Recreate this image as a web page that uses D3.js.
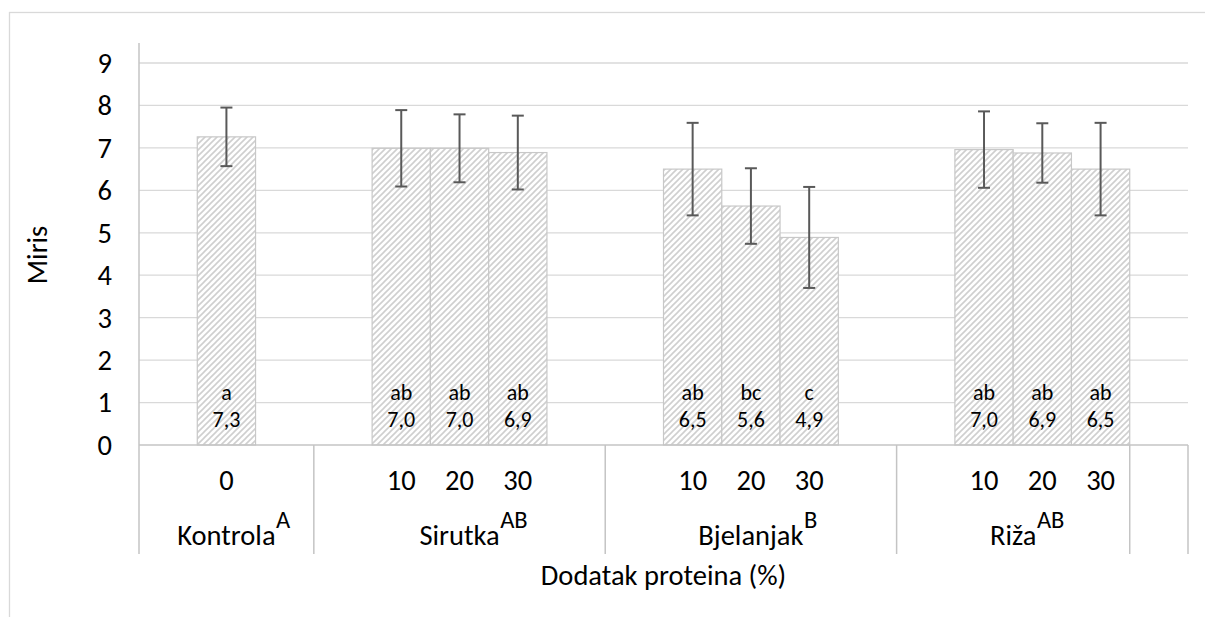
<!DOCTYPE html>
<html lang="hr">
<head>
<meta charset="UTF-8">
<title>Miris</title>
<script src="https://d3js.org/d3.v7.min.js"></script>
<style>
  body { margin: 0; background: #fff; }
  svg text { font-family: Carlito, "Open Sans", sans-serif; fill: #000; }
  .grid line { stroke: #d9d9d9; stroke-width: 1.3; }
  .bar { fill: url(#hatch); stroke: #c8c8c8; stroke-width: 1.2; }
  .err { stroke: #595959; stroke-width: 2; }
  .sep { stroke: #c4c4c4; stroke-width: 1.5; }
</style>
</head>
<body>
<svg width="1205" height="617"></svg>
<script>
// slots along the category axis (Excel blank categories included)
const slotDose  = ["", "0", "", "", "10", "20", "30", "", "", "10", "20", "30", "", "", "10", "20", "30", ""];
const slotGroup = [0, 0, 0, 1, 1, 1, 1, 1, 2, 2, 2, 2, 2, 3, 3, 3, 3, 4];
const groups    = ["Kontrola", "Sirutka", "Bjelanjak", "Riža", ""];
const groupSup  = ["A", "AB", "B", "AB", ""];

// one entry per bar, in slot order
const barSlots  = [1, 4, 5, 6, 9, 10, 11, 14, 15, 16];
const means     = [7.26, 6.99, 6.99, 6.89, 6.50, 5.63, 4.89, 6.96, 6.88, 6.50];
const sds       = [0.69, 0.90, 0.80, 0.87, 1.09, 0.89, 1.19, 0.90, 0.70, 1.09];
const letters   = ["a", "ab", "ab", "ab", "ab", "bc", "c", "ab", "ab", "ab"];
const yTicks    = [0, 1, 2, 3, 4, 5, 6, 7, 8, 9];

const svg = d3.select("svg");
const left = 139, right = 1188, y0 = 445, y9 = 63;
const fs = 28.5;

// chart border
svg.append("rect").attr("x", 9.5).attr("y", 12.5).attr("width", 1300).attr("height", 700)
  .attr("fill", "none").attr("stroke", "#d9d9d9").attr("stroke-width", 1.3);

const defs = svg.append("defs");
const pat = defs.append("pattern").attr("id", "hatch").attr("patternUnits", "userSpaceOnUse")
  .attr("width", 6).attr("height", 6);
pat.append("rect").attr("width", 6).attr("height", 6).attr("fill", "#fff");
pat.append("path").attr("d", "M-1,1 l2,-2 M0,6 l6,-6 M5,7 l2,-2")
  .attr("stroke", "#cfcfcf").attr("stroke-width", 1.6);

const x = d3.scaleBand().domain(d3.range(slotDose.length)).range([left, right]).padding(0);
const y = d3.scaleLinear().domain([0, 9]).range([y0, y9]);

// gridlines
svg.append("g").attr("class", "grid")
  .selectAll("line").data(yTicks.filter(d => d > 0)).join("line")
  .attr("x1", left).attr("x2", right).attr("y1", d => y(d)).attr("y2", d => y(d));

// y axis labels
const yAxis = svg.append("g").attr("transform", `translate(${left},0)`)
  .call(d3.axisLeft(y).tickValues(yTicks).tickSize(0).tickPadding(27));
yAxis.select(".domain").remove();
yAxis.selectAll("text").style("font-size", fs + "px").attr("dy", "0.33em");

// bars
const bars = barSlots.map((s, i) => ({slot: s, mean: means[i], sd: sds[i], letter: letters[i]}));
svg.append("g").selectAll("rect").data(bars).join("rect")
  .attr("class", "bar")
  .attr("x", d => x(d.slot)).attr("width", x.bandwidth())
  .attr("y", d => y(d.mean)).attr("height", d => y(0) - y(d.mean));

// error bars
const eb = svg.append("g").selectAll("g").data(bars).join("g")
  .attr("transform", d => `translate(${x(d.slot) + x.bandwidth() / 2},0)`);
eb.append("line").attr("class", "err").attr("y1", d => y(d.mean + d.sd)).attr("y2", d => y(d.mean - d.sd));
eb.append("line").attr("class", "err").attr("x1", -6).attr("x2", 6)
  .attr("y1", d => y(d.mean + d.sd)).attr("y2", d => y(d.mean + d.sd));
eb.append("line").attr("class", "err").attr("x1", -6).attr("x2", 6)
  .attr("y1", d => y(d.mean - d.sd)).attr("y2", d => y(d.mean - d.sd));

// labels inside bars
const fmt = v => d3.format(".1f")(v).replace(".", ",");
const lab = svg.append("g").selectAll("g").data(bars).join("g")
  .attr("transform", d => `translate(${x(d.slot) + x.bandwidth() / 2},0)`);
lab.append("text").attr("y", 400).attr("text-anchor", "middle").style("font-size", "22px").text(d => d.letter);
lab.append("text").attr("y", 427).attr("text-anchor", "middle").style("font-size", "22px").text(d => fmt(d.mean));

// x axis line
svg.append("line").attr("class", "sep").attr("x1", left).attr("x2", right).attr("y1", y0).attr("y2", y0);
// y axis line
svg.append("line").attr("class", "sep").attr("x1", left).attr("x2", left).attr("y1", y(9.47)).attr("y2", 554);

// group separators
const bounds = [];
slotGroup.forEach((g, i) => { if (i > 0 && g !== slotGroup[i - 1]) bounds.push(x(i)); });
bounds.push(right);
svg.append("g").selectAll("line").data(bounds).join("line").attr("class", "sep")
  .attr("x1", d => d).attr("x2", d => d).attr("y1", y0).attr("y2", 554);

// dose labels
svg.append("g").selectAll("text").data(slotDose.map((t, i) => ({t, i})).filter(d => d.t))
  .join("text").attr("x", d => x(d.i) + x.bandwidth() / 2).attr("y", 490)
  .attr("text-anchor", "middle").style("font-size", fs + "px").text(d => d.t);

// group labels with superscripts
groups.forEach((name, gi) => {
  if (!name) return;
  const idx = slotGroup.map((g, i) => g === gi ? i : -1).filter(i => i >= 0);
  const cx = (x(idx[0]) + x(idx[idx.length - 1]) + x.bandwidth()) / 2;
  const t = svg.append("text").attr("x", cx).attr("y", 545).attr("text-anchor", "middle")
    .style("font-size", fs + "px").text(name);
  const w = t.node().getComputedTextLength();
  svg.append("text").attr("x", cx + w / 2 + 0.5).attr("y", 528).style("font-size", "24.5px").text(groupSup[gi]);
});

// axis titles
svg.append("text").attr("x", (left + right) / 2).attr("y", 585).attr("text-anchor", "middle")
  .style("font-size", fs + "px").text("Dodatak proteina (%)");
svg.append("text").attr("transform", "translate(47,255) rotate(-90)").attr("text-anchor", "middle")
  .style("font-size", fs + "px").text("Miris");
</script>
</body>
</html>
